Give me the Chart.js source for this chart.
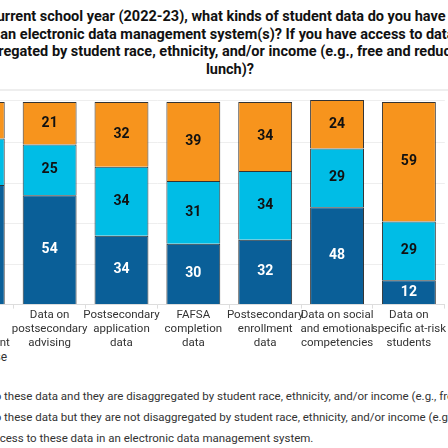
<!DOCTYPE html>
<html><head><meta charset="utf-8">
<script src="https://cdn.jsdelivr.net/npm/chart.js@4"></script>
<style>
body{margin:0;width:448px;height:448px;overflow:hidden;background:#fff;font-family:Roboto,sans-serif;position:relative}
#title{position:absolute;left:-270px;width:1000px;top:8px;text-align:center;font-weight:bold;font-size:14.5px;line-height:17.5px;color:#111;white-space:nowrap}
#sep{position:absolute;left:0;width:448px;top:89px;height:2px;background:#eee}
#cw{position:absolute;left:-130px;top:92px;width:576px;height:258px}
.lg{position:absolute;left:-120px;font-size:11.5px;color:#333;white-space:nowrap}
.lg span{display:inline-block;width:12px;height:12px;vertical-align:-2px;margin-right:14px}
#lt{position:absolute;right:441px;top:350px;font-size:12px;color:#333}
</style></head><body>
<div id="title">In the current school year (2022-23), what kinds of student data do you have access to<br>through an electronic data management system(s)? If you have access to data, are they<br>disaggregated by student race, ethnicity, and/or income (e.g., free and reduced-price<br>lunch)?</div>
<div id="sep"></div>
<div id="cw"><canvas id="c"></canvas></div>
<div id="lt">Response option</div>
<div id="legend"></div>
<script>
const categories=[["Data on","course-taking"],["Data on","student","engagement"],["Data on","postsecondary","advising"],["Postsecondary","application","data"],["FAFSA","completion","data"],["Postsecondary","enrollment","data"],["Data on social","and emotional","competencies"],["Data on","specific at-risk","students"]];
const disaggregated=[62,59,54,34,30,32,48,12];
const notDisaggregated=[22,23,25,34,31,34,29,29];
const noAccess=[16,18,21,32,39,34,24,59];
const seriesLabels=["We have access to these data and they are disaggregated by student race, ethnicity, and/or income (e.g., free and reduced-price lunch).","We have access to these data but they are not disaggregated by student race, ethnicity, and/or income (e.g., free and reduced-price lunch).","We do not have access to these data in an electronic data management system."];
const colors=["#0a5f98","#00bde6","#f7941d"];
const tops=[397,418,439];
const lg=document.getElementById('legend');
seriesLabels.forEach((t,i)=>{const d=document.createElement('div');d.className='lg';d.style.top=(tops[i]-8)+'px';d.innerHTML='<span style="background:'+colors[i]+'"></span>'+t;lg.appendChild(d);});
const labelPlugin={id:'vals',afterDatasetsDraw(ch){const ctx=ch.ctx;ctx.save();ctx.font='bold 14px Roboto';ctx.textAlign='center';ctx.textBaseline='middle';
ch.data.datasets.forEach((ds,i)=>{ch.getDatasetMeta(i).data.forEach((b,j)=>{const y=(b.y+b.base)/2;ctx.fillStyle=i===0?'#fff':'#111';ctx.fillText(ds.data[j],b.x,y);});});ctx.restore();}};
new Chart(document.getElementById('c'),{type:'bar',
data:{labels:categories,datasets:[disaggregated,notDisaggregated,noAccess].map((d,i)=>({label:seriesLabels[i],data:d,backgroundColor:colors[i],borderColor:'#333',borderWidth:1,categoryPercentage:1,barPercentage:0.75}))},
options:{responsive:true,maintainAspectRatio:false,animation:false,layout:{padding:{top:8}},
plugins:{legend:{display:false},tooltip:{enabled:false}},
scales:{x:{stacked:true,grid:{display:true,drawOnChartArea:false,color:'#ddd',tickLength:4},border:{color:'#ddd'},ticks:{maxRotation:0,autoSkip:false,color:'#333',font:{family:'Roboto',size:11.5},padding:0}},
y:{stacked:true,min:0,max:101,display:true,ticks:{display:false,stepSize:20},grid:{color:'#eee',drawTicks:false},border:{display:false}}}},
plugins:[labelPlugin]});
</script></body></html>
